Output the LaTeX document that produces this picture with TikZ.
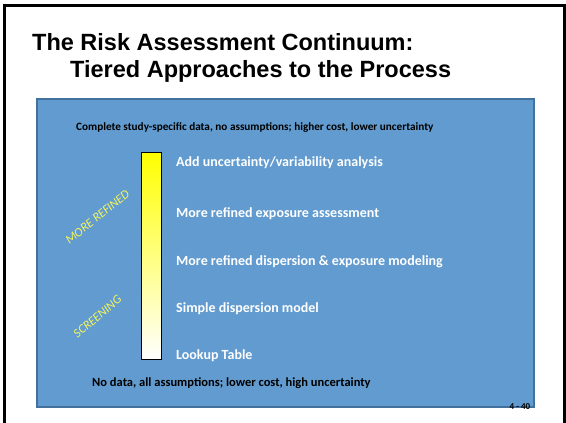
\documentclass[tikz,border=0pt]{standalone}
\usepackage{fontspec}
\setmainfont{Carlito}
\newfontfamily\titlefont{Liberation Sans}
\usepackage{xcolor}
\usepackage{tikz}
\usetikzlibrary{positioning}
\definecolor{panelblue}{HTML}{619BCF}
\definecolor{paneledge}{HTML}{41719C}
\definecolor{tagyellow}{HTML}{F5F55A}

\begin{document}
\begin{tikzpicture}[x=1pt, y=-1pt,
  tier/.style={anchor=west, text=white, font=\bfseries\fontsize{14}{16}\selectfont, inner sep=0pt},
  bound/.style={anchor=west, font=\bfseries\fontsize{12.5}{14}\selectfont, inner sep=0pt},
  tag/.style={text=tagyellow, font=\itshape\fontsize{12.5}{14}\selectfont, inner sep=0pt}]
\useasboundingbox (0,0) rectangle (566,423);

% Frame
\draw[line width=3pt] (4.5,423) -- (4.5,5.5) -- (564,5.5) -- (564,423);

% Title
\node[anchor=base west, inner sep=0pt, font=\titlefont\bfseries\fontsize{23.5}{28}\selectfont] (title1) at (32,50) {The Risk Assessment Continuum:};
\node[anchor=base west, inner sep=0pt, font=\titlefont\bfseries\fontsize{23.5}{28}\selectfont] (title2) at (70,77) {Tiered Approaches to the Process};

% Blue panel
\draw[fill=panelblue, draw=paneledge, line width=2.5pt] (37,99) rectangle (534,407);

% Gradient bar
\draw[top color=yellow, bottom color=white, draw=black, line width=0.7pt] (141,152) rectangle (161,359);

% Bounds
\node[bound, font=\bfseries\fontsize{11.2}{13}\selectfont] (top) at (76,128) {Complete study-specific data, no assumptions; higher cost, lower uncertainty};
\node[bound] (bottom) at (92,383) {No data, all assumptions; lower cost, high uncertainty};

% Tiers
\node[tier] (t5) at (176,163) {Add uncertainty/variability analysis};
\node[tier] (t4) at (176,214) {More refined exposure assessment};
\node[tier] (t3) at (176,262) {More refined dispersion \& exposure modeling};
\node[tier] (t2) at (176,309) {Simple dispersion model};
\node[tier] (t1) at (176,356) {Lookup Table};

% Tags
\node[tag, rotate=39] (refined) at (97.5,217) {MORE REFINED};
\node[tag, rotate=40] (screening) at (97.5,316.5) {SCREENING};

% Slide number
\node[inner sep=0pt, font=\bfseries\fontsize{9}{10}\selectfont] (num) at (520,407) {4 - 40};

\end{tikzpicture}
\end{document}
